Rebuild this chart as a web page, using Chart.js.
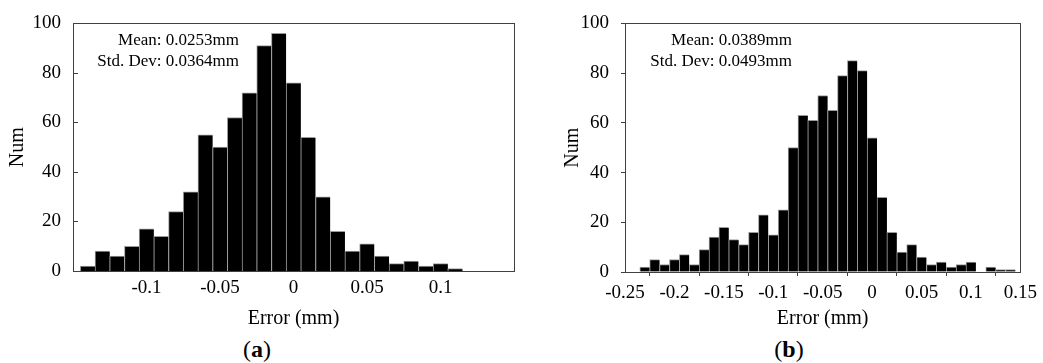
<!DOCTYPE html>
<html>
<head>
<meta charset="utf-8">
<script src="https://cdn.jsdelivr.net/npm/chart.js@4.4.1/dist/chart.umd.min.js"></script>
<style>
    html, body { margin: 0; padding: 0; background: #fff; }
    body {
        width: 1043px; height: 363px; position: relative; overflow: hidden;
        font-family: "Liberation Serif", "Times New Roman", serif; color: #000;
    }
    canvas { position: absolute; top: 0; }
    #histA { left: 0; }
    #histB { left: 530px; }
    .stats {
        position: absolute; top: 29px; font-size: 17px; line-height: 21px;
        text-align: right; white-space: nowrap;
    }
    .tag {
        position: absolute; top: 335px; width: 60px; font-size: 24px;
        line-height: 28px; text-align: center;
    }
</style>
</head>
<body>
<canvas id="histA" width="530" height="335"></canvas>
<canvas id="histB" width="513" height="335"></canvas>

<div class="stats" style="left: 90px; width: 149px;">Mean: 0.0253mm<br>Std. Dev: 0.0364mm</div>
<div class="stats" style="left: 640px; width: 152px;">Mean: 0.0389mm<br>Std. Dev: 0.0493mm</div>

<div class="tag" style="left: 227px;">(<b>a</b>)</div>
<div class="tag" style="left: 759px;">(<b>b</b>)</div>

<script>
    // bin centres (mm) and counts per bin
    const binsA = [
        -0.14, -0.13, -0.12, -0.11, -0.10, -0.09, -0.08, -0.07, -0.06,
        -0.05, -0.04, -0.03, -0.02, -0.01, 0.00, 0.01, 0.02, 0.03, 0.04,
        0.05, 0.06, 0.07, 0.08, 0.09, 0.10, 0.11,
    ];
    const countsA = [
        2, 8, 6, 10, 17, 14, 24, 32, 55, 50, 62, 72, 91, 96, 76, 54, 30,
        16, 8, 11, 6, 3, 4, 2, 3, 1,
    ];
    const binsB = [
        -0.23, -0.22, -0.21, -0.20, -0.19, -0.18, -0.17, -0.16, -0.15,
        -0.14, -0.13, -0.12, -0.11, -0.10, -0.09, -0.08, -0.07, -0.06,
        -0.05, -0.04, -0.03, -0.02, -0.01, 0.00, 0.01, 0.02, 0.03, 0.04,
        0.05, 0.06, 0.07, 0.08, 0.09, 0.10, 0.11, 0.12, 0.13, 0.14,
    ];
    const countsB = [
        2, 5, 3, 5, 7, 3, 9, 14, 18, 13, 11, 16, 23, 15, 25, 50, 63, 61,
        71, 65, 79, 85, 81, 54, 30, 16, 8, 11, 6, 3, 4, 2, 3, 4, 0, 2, 1, 1,
    ];
    const xTicksA = [-0.1, -0.05, 0, 0.05, 0.1];
    const xTicksB = [-0.25, -0.2, -0.15, -0.1, -0.05, 0, 0.05, 0.1, 0.15];
    const yTicks = [0, 20, 40, 60, 80, 100];

    const tickFont = { family: "Liberation Serif", size: 19 };
    const titleFont = { family: "Liberation Serif", size: 20 };

    // box round the plot, plus optional short ticks pointing inwards
    const frame = {
        id: "frame",
        beforeDatasetsDraw(chart, args, opts) {
            if (!opts.inward) return;
            const { ctx, chartArea: a, scales } = chart;
            ctx.save();
            ctx.strokeStyle = "#404040";
            ctx.lineWidth = 1;
            ctx.beginPath();
            scales.y.ticks.forEach((t) => {
                const py = Math.round(scales.y.getPixelForValue(t.value)) + 0.5;
                ctx.moveTo(a.left, py);
                ctx.lineTo(a.left + 5, py);
            });
            scales.x.ticks.forEach((t) => {
                const px = Math.round(scales.x.getPixelForValue(t.value)) + 0.5;
                ctx.moveTo(px, a.bottom);
                ctx.lineTo(px, a.bottom - 5);
            });
            ctx.stroke();
            ctx.restore();
        },
        afterDatasetsDraw(chart) {
            const { ctx, chartArea: a } = chart;
            ctx.save();
            ctx.strokeStyle = "#404040";
            ctx.lineWidth = 1;
            ctx.strokeRect(
                Math.round(a.left) + 0.5,
                Math.round(a.top) + 0.5,
                Math.round(a.right - a.left),
                Math.round(a.bottom - a.top)
            );
            ctx.restore();
        },
    };

    const keepTicks = (list) => (scale) => {
        scale.ticks = list.map((v) => ({ value: v }));
    };

    const drawHistogram = (id, bins, counts, cfg) => {
        const canvas = document.getElementById(id);
        const H = canvas.height;
        const outward = !cfg.inward;
        const axisGrid = {
            display: outward,
            drawOnChartArea: false,
            drawTicks: outward,
            tickLength: 4,
            color: "#404040",
        };
        return new Chart(canvas, {
            type: "bar",
            data: {
                datasets: [
                    {
                        data: bins.map((b, i) => ({ x: b, y: counts[i] })),
                        backgroundColor: "#000",
                        borderColor: "#9a9a9a",
                        borderWidth: { left: 1, top: 1, right: 0, bottom: 0 },
                        barPercentage: 1,
                        categoryPercentage: 1,
                    },
                ],
            },
            options: {
                responsive: false,
                animation: false,
                layout: {
                    padding: { top: cfg.top, right: cfg.right, left: 0, bottom: 0 },
                },
                plugins: {
                    legend: { display: false },
                    tooltip: { enabled: false },
                    frame: { inward: cfg.inward },
                },
                scales: {
                    x: {
                        type: "linear",
                        min: cfg.xMin,
                        max: cfg.xMax,
                        offset: false,
                        afterBuildTicks: keepTicks(cfg.xTicks),
                        afterFit: (s) => {
                            s.height = H - cfg.bottom;
                        },
                        grid: axisGrid,
                        border: { display: false },
                        ticks: {
                            font: tickFont,
                            color: "#000",
                            padding: cfg.xPad,
                            maxRotation: 0,
                            autoSkip: false,
                            callback: (v) => String(+v.toFixed(2)),
                        },
                        title: {
                            display: true,
                            text: "Error (mm)",
                            font: titleFont,
                            color: "#000",
                            padding: { top: 0, bottom: 4 },
                        },
                    },
                    y: {
                        min: 0,
                        max: 100,
                        afterBuildTicks: keepTicks(yTicks),
                        afterFit: (s) => {
                            s.width = cfg.left;
                        },
                        grid: axisGrid,
                        border: { display: false },
                        ticks: {
                            font: tickFont,
                            color: "#000",
                            padding: cfg.yPad,
                        },
                        title: {
                            display: true,
                            text: "Num",
                            font: titleFont,
                            color: "#000",
                            padding: { top: cfg.numPad, bottom: 0 },
                        },
                    },
                },
            },
            plugins: [frame],
        });
    };

    drawHistogram("histA", binsA, countsA, {
        inward: true,
        xMin: -0.15, xMax: 0.15, xTicks: xTicksA,
        top: 23, right: 16, left: 73, bottom: 271,
        xPad: 6, yPad: 12, numPad: 6,
    });
    drawHistogram("histB", binsB, countsB, {
        inward: false,
        xMin: -0.25, xMax: 0.15, xTicks: xTicksB,
        top: 23, right: 19, left: 95, bottom: 272,
        xPad: 6, yPad: 12, numPad: 31,
    });
</script>
</body>
</html>
